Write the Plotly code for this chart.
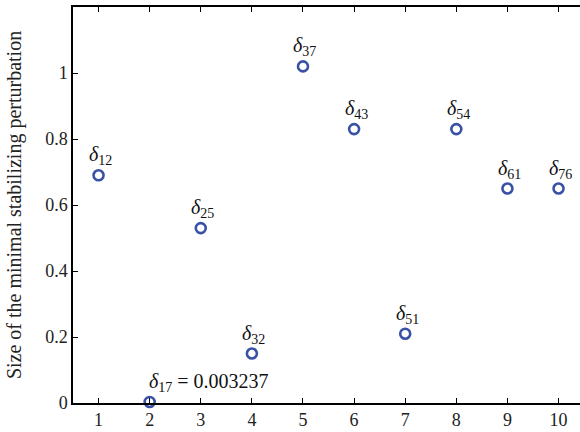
import plotly.graph_objects as go

x_vals = [1, 2, 3, 4, 5, 6, 7, 8, 9, 10]
y_vals = [0.69, 0.003237, 0.53, 0.15, 1.02, 0.83, 0.21, 0.83, 0.65, 0.65]
subs = ["12", "17", "25", "32", "37", "43", "51", "54", "61", "76"]
x_ticks = [1, 2, 3, 4, 5, 6, 7, 8, 9, 10]
y_ticks = [0, 0.2, 0.4, 0.6, 0.8, 1]
y_tick_text = ["0", "0.2", "0.4", "0.6", "0.8", "1"]

FONT = "'Liberation Serif', 'Times New Roman', serif"
fig = go.Figure()
fig.add_trace(go.Scatter(
    x=x_vals, y=y_vals, mode="markers",
    marker=dict(symbol="circle-open", size=10, color="#3a52a6",
                line=dict(width=2.6, color="#3a52a6")),
    cliponaxis=False, showlegend=False, hoverinfo="skip",
))

for xv, yv, s in zip(x_vals, y_vals, subs):
    if s == "17":
        fig.add_annotation(x=xv, y=yv, text=f"<i>δ</i><sub>{s}</sub> = 0.003237",
                           showarrow=False, xanchor="left", yanchor="bottom",
                           xshift=-3, yshift=5,
                           font=dict(family=FONT, size=20, color="#111"))
    else:
        fig.add_annotation(x=xv, y=yv, text=f"<i>δ</i><sub>{s}</sub>",
                           showarrow=False, xanchor="center", yanchor="bottom",
                           xshift=2, yshift=5,
                           font=dict(family=FONT, size=20, color="#111"))

fig.update_layout(
    width=580, height=432,
    margin=dict(l=73, r=0, t=7, b=29),
    paper_bgcolor="white", plot_bgcolor="white",
    font=dict(family=FONT, size=18, color="#222"),
    xaxis=dict(range=[0.5, 10.42], tickvals=x_ticks, ticks="inside", ticklen=5,
               tickwidth=1, tickcolor="black", showline=True, linecolor="black",
               linewidth=1.5, mirror="ticks", showgrid=False, zeroline=False,
               tickfont=dict(family=FONT, size=18)),
    yaxis=dict(range=[0, 1.2], tickvals=y_ticks, ticktext=y_tick_text,
               ticks="inside", ticklen=5, tickwidth=1, tickcolor="black",
               showline=True, linecolor="black", linewidth=1.5,
               showgrid=False, zeroline=False,
               tickfont=dict(family=FONT, size=18),
               title=dict(text="Size of the minimal stabilizing perturbation",
                          font=dict(family=FONT, size=20), standoff=18)),
)

fig.write_html("out.html", config={"displayModeBar": False},
               post_script="document.body.style.margin='0';document.body.style.overflow='hidden';")
